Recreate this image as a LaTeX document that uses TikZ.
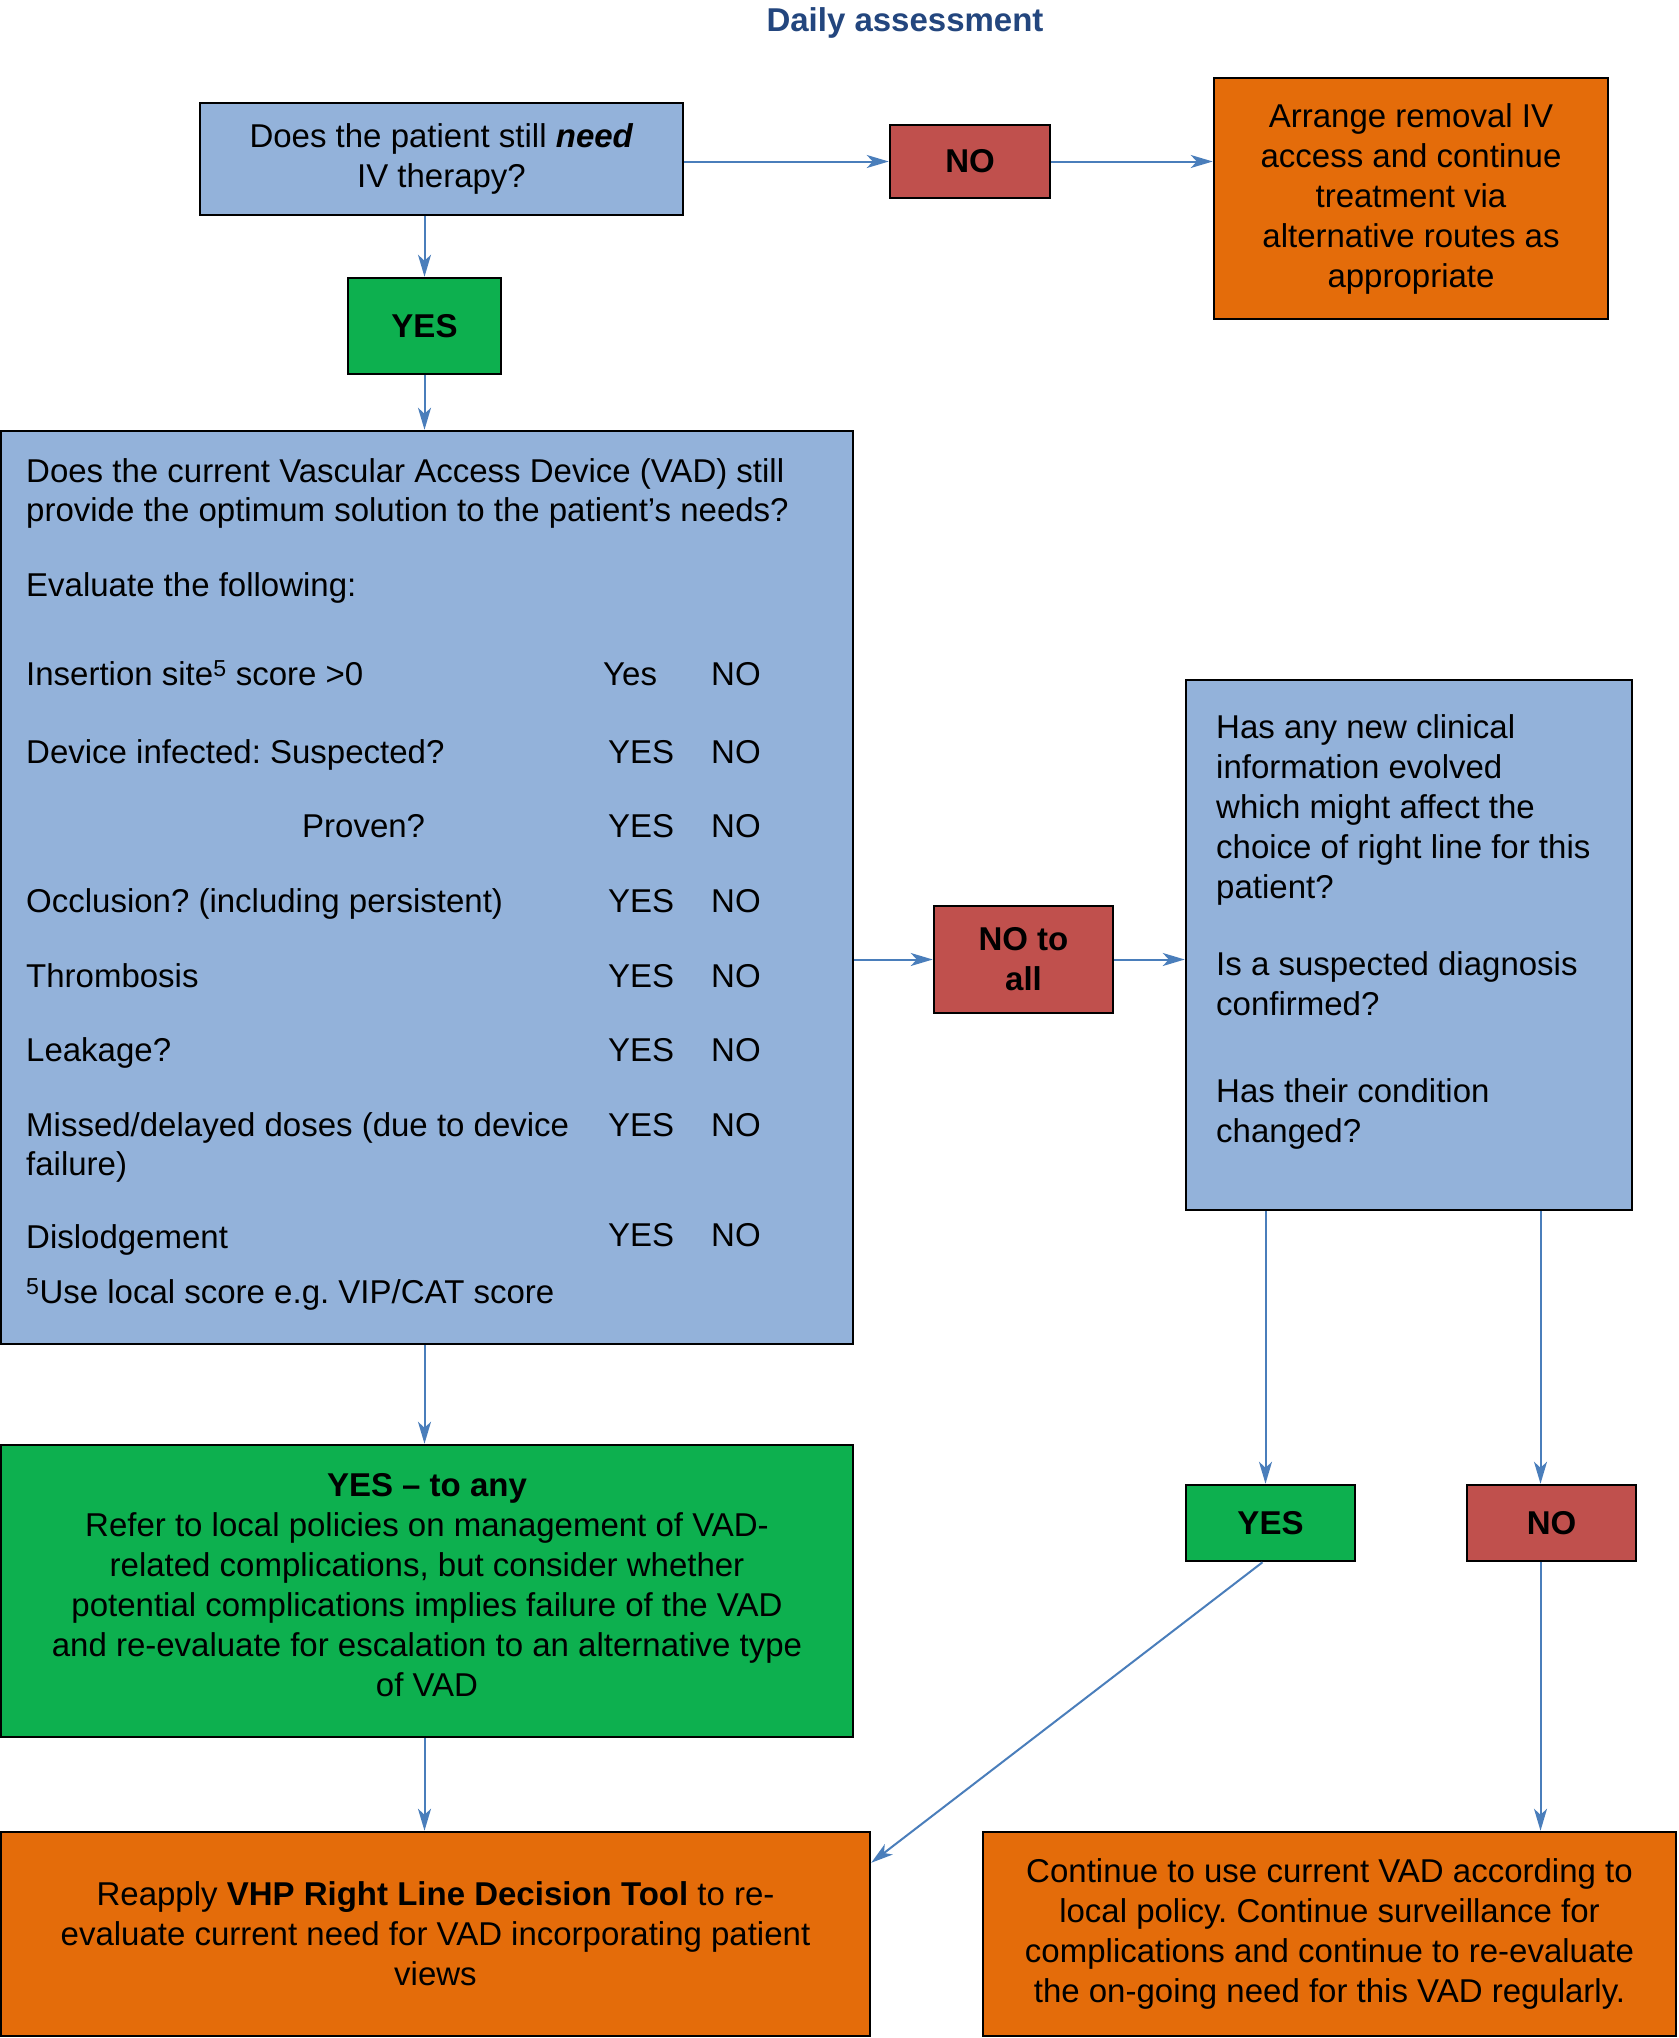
\documentclass[tikz,border=0pt]{standalone}
\usepackage{fontspec}
\setmainfont{Liberation Sans}
\usetikzlibrary{arrows.meta,calc}
\definecolor{boxblue}{HTML}{93B2DA}
\definecolor{boxred}{HTML}{C0504D}
\definecolor{boxgreen}{HTML}{0DB04F}
\definecolor{boxorange}{HTML}{E46C0A}
\definecolor{arrowblue}{HTML}{4A7EBB}
\definecolor{titleblue}{HTML}{23467E}
\frenchspacing
\begin{document}
\frenchspacing
\begin{tikzpicture}[x=1pt,y=-1pt,
  box/.style={draw=black, line width=2.5pt, inner sep=0pt, align=center, font=\fontsize{33}{40}\selectfont},
  bluebox/.style={box, fill=boxblue},
  redbox/.style={box, fill=boxred, font=\fontsize{33}{40}\selectfont\bfseries},
  greenbox/.style={box, fill=boxgreen},
  orangebox/.style={box, fill=boxorange},
  arr/.style={draw=arrowblue, line width=2pt, -{Stealth[length=22pt,width=13pt,inset=6pt]}},
  txt/.style={font=\fontsize{33}{40}\selectfont, inner sep=0pt, anchor=mid west, yshift=-7pt}
]
\fill[white] (0,0) rectangle (1679,2038);
\useasboundingbox (0,0) rectangle (1679,2038);

\node[font=\fontsize{33}{40}\selectfont\bfseries, text=titleblue, inner sep=0pt] (title) at (905,23) {Daily assessment};

\node[bluebox, minimum width=483pt, minimum height=112pt] (q1) at (441.5,159) {Does the patient still \textbf{\textit{need}}\\IV therapy?};
\node[redbox, minimum width=160pt, minimum height=73pt] (no1) at (970,161.5) {NO};
\node[orangebox, minimum width=394pt, minimum height=241pt] (o1) at (1411,198.5) {Arrange removal IV\\access and continue\\treatment via\\alternative routes as\\appropriate};
\node[greenbox, minimum width=153pt, minimum height=96pt, font=\fontsize{33}{40}\selectfont\bfseries] (yes1) at (424.5,326) {YES};

\node[bluebox, minimum width=852pt, minimum height=913pt] (big) at (427,887.5) {};
\node[txt] (b1) at (26,472.5) {Does the current Vascular Access Device (VAD) still};
\node[txt] (b2) at (26,511.5) {provide the optimum solution to the patient’s needs?};
\node[txt] (b3) at (26,587) {Evaluate the following:};
\node[txt] (r1) at (26,675.5) {Insertion site\textsuperscript{5} score >0};
\node[txt] (r1y) at (603,675.5) {Yes};
\node[txt] (r1n) at (711,675.5) {NO};
\node[txt] (r2) at (26,753.6) {Device infected: Suspected?};
\node[txt] (r2y) at (608,753.6) {YES};
\node[txt] (r2n) at (711,753.6) {NO};
\node[txt] (r3) at (302,827.5) {Proven?};
\node[txt] (r3y) at (608,827.5) {YES};
\node[txt] (r3n) at (711,827.5) {NO};
\node[txt] (r4) at (26,902.5) {Occlusion? (including persistent)};
\node[txt] (r4y) at (608,902.5) {YES};
\node[txt] (r4n) at (711,902.5) {NO};
\node[txt] (r5) at (26,977.5) {Thrombosis};
\node[txt] (r5y) at (608,977.5) {YES};
\node[txt] (r5n) at (711,977.5) {NO};
\node[txt] (r6) at (26,1051.7) {Leakage?};
\node[txt] (r6y) at (608,1051.7) {YES};
\node[txt] (r6n) at (711,1051.7) {NO};
\node[txt] (r7) at (26,1127) {Missed/delayed doses (due to device};
\node[txt] (r7b) at (26,1166) {failure)};
\node[txt] (r7y) at (608,1127) {YES};
\node[txt] (r7n) at (711,1127) {NO};
\node[txt] (r8) at (26,1239) {Dislodgement};
\node[txt] (r8y) at (608,1236.5) {YES};
\node[txt] (r8n) at (711,1236.5) {NO};
\node[txt] (fn) at (26,1294) {\textsuperscript{5}Use local score e.g. VIP/CAT score};

\node[redbox, minimum width=179pt, minimum height=107pt] (noall) at (1023.5,959.5) {NO to\\all};

\node[bluebox, minimum width=446pt, minimum height=530pt] (rbox) at (1409,945) {};
\node[txt] (c1) at (1216,728.5) {Has any new clinical};
\node[txt] (c2) at (1216,768.5) {information evolved};
\node[txt] (c3) at (1216,808.5) {which might affect the};
\node[txt] (c4) at (1216,848.5) {choice of right line for this};
\node[txt] (c5) at (1216,888.5) {patient?};
\node[txt] (c6) at (1216,966) {Is a suspected diagnosis};
\node[txt] (c7) at (1216,1005.5) {confirmed?};
\node[txt] (c8) at (1216,1092.5) {Has their condition};
\node[txt] (c9) at (1216,1132.5) {changed?};

\node[greenbox, minimum width=852pt, minimum height=292pt] (green) at (427,1591) {\textbf{YES – to any}\\Refer to local policies on management of VAD-\\related complications, but consider whether\\potential complications implies failure of the VAD\\and re-evaluate for escalation to an alternative type\\of VAD\\[-27pt]\mbox{}};

\node[greenbox, minimum width=169pt, minimum height=76pt, font=\fontsize{33}{40}\selectfont\bfseries] (yes2) at (1270.5,1523) {YES};
\node[redbox, minimum width=169pt, minimum height=76pt] (no2) at (1551.5,1523) {NO};

\node[orangebox, minimum width=869pt, minimum height=204pt] (bl) at (435.5,1934) {Reapply \textbf{VHP Right Line Decision Tool} to re-\\evaluate current need for VAD incorporating patient\\views};
\node[orangebox, minimum width=693pt, minimum height=204pt] (br) at (1329.5,1934) {Continue to use current VAD according to\\local policy. Continue surveillance for\\complications and continue to re-evaluate\\the on-going need for this VAD regularly.};

\coordinate (nox) at ($(no2.south)+(-11,0)$);
\coordinate (yx) at ($(yes2.north)+(-5,0)$);

\draw[arr] (q1.east |- no1.west) -- (no1.west);
\draw[arr] (no1.east) -- (no1.east -| o1.west);
\draw[arr] (yes1.north |- q1.south) -- (yes1.north);
\draw[arr] (yes1.south) -- (yes1.south |- big.north);
\draw[arr] (big.east |- noall.west) -- (noall.west);
\draw[arr] (noall.east) -- (noall.east -| rbox.west);
\draw[arr] (yes1.south |- big.south) -- (yes1.south |- green.north);
\draw[arr] (yes1.south |- green.south) -- (yes1.south |- bl.north);
\draw[arr] (yx |- rbox.south) -- (yx |- yes2.north);
\draw[arr] (nox |- rbox.south) -- (nox |- no2.north);
\draw[arr] ($(yes2.south)+(-8,0)$) -- ($(bl.north east)+(0,32)$);
\draw[arr] (nox) -- (nox |- br.north);
\end{tikzpicture}
\end{document}
